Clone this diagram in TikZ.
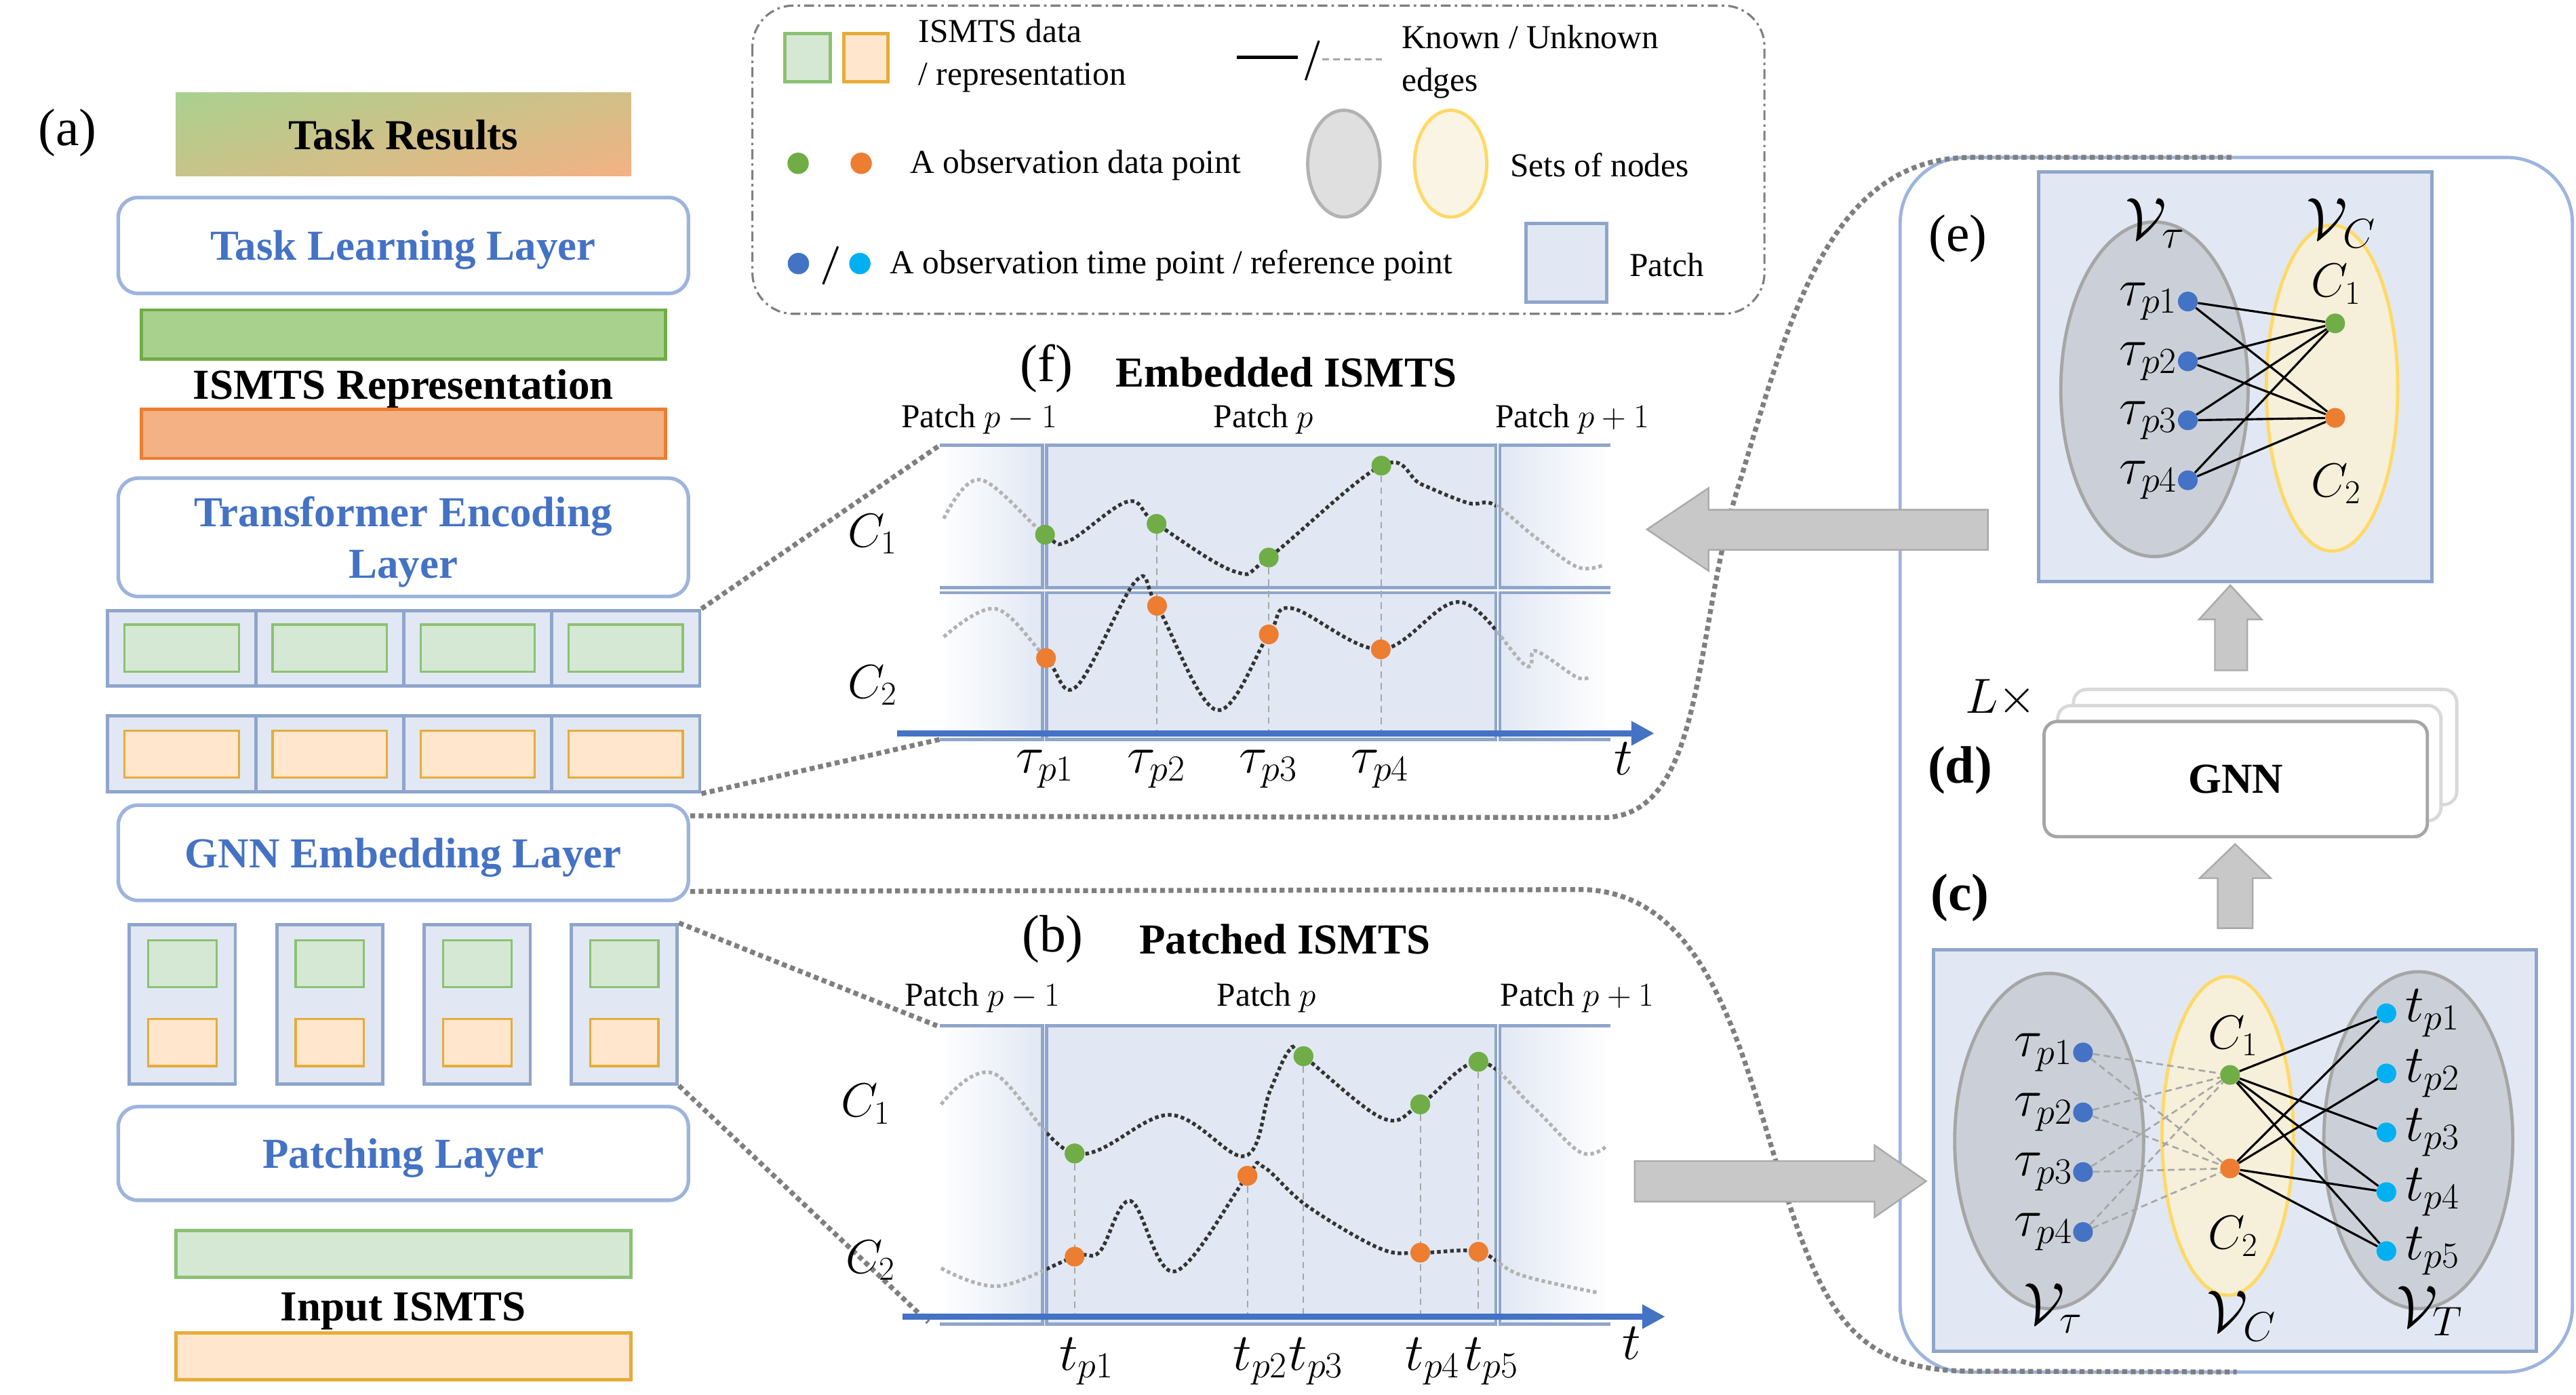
\RequirePackage{fix-cm}
\documentclass[tikz,border=0pt]{standalone}
\usepackage{fontspec}
\setmainfont{Liberation Serif}
\usepackage{amsmath,amssymb}
\usetikzlibrary{calc, positioning, arrows.meta, shapes.geometric, shadings}

\definecolor{blueText}{RGB}{68,114,196}
\definecolor{layerLine}{RGB}{157,180,222}
\definecolor{patchFill}{RGB}{225,232,244}
\definecolor{patchLine}{RGB}{143,165,203}
\definecolor{barGreen}{RGB}{169,209,142}
\definecolor{barGreenLine}{RGB}{112,173,71}
\definecolor{barOrange}{RGB}{244,177,131}
\definecolor{barOrangeLine}{RGB}{237,125,49}
\definecolor{softGreen}{RGB}{213,232,212}
\definecolor{softGreenLine}{RGB}{140,193,115}
\definecolor{softOrange}{RGB}{255,230,204}
\definecolor{softOrangeLine}{RGB}{230,172,58}
\definecolor{ptGreen}{RGB}{112,173,71}
\definecolor{ptOrange}{RGB}{237,125,49}
\definecolor{ptBlue}{RGB}{68,114,196}
\definecolor{ptCyan}{RGB}{0,176,240}
\definecolor{setGray}{RGB}{203,208,216}
\definecolor{setGrayLine}{RGB}{166,166,166}
\definecolor{setYellow}{RGB}{246,239,217}
\definecolor{setYellowLine}{RGB}{255,217,102}
\definecolor{arrowGray}{RGB}{200,200,200}
\definecolor{arrowLine}{RGB}{170,170,170}
\definecolor{dotGray}{RGB}{127,127,127}

\newcommand{\patchstrip}[2]{%
  \shade[left color=white, right color=patchFill] (572,#1) rectangle (634.5,#2);
  \shade[left color=patchFill, right color=white] (913,#1) rectangle (980.4,#2);
  \fill[patchFill] (637,#1) rectangle (910.5,#2);
  \draw[patchLine, line width=2pt] (572,#1) -- (634.5,#1) -- (634.5,#2) -- (572,#2);
  \draw[patchLine, line width=2pt] (980.4,#1) -- (913,#1) -- (913,#2) -- (980.4,#2);
  \draw[patchLine, line width=2pt] (637,#1) rectangle (910.5,#2);
}
\newcommand{\seriesFone}{plot[smooth, tension=0.6] coordinates {(574.5,315.6) (596.6,291.9) (636.1,325.4) (650.3,329.4) (686.7,305.2) (704,318.8) (751.4,347.8) (772.3,339.3) (840.8,283.4) (865.1,294.7) (893.6,306.1) (909.4,307.1) (934.6,327) (959.9,345) (975.7,344)}}
\newcommand{\seriesFtwo}{plot[smooth, tension=0.6] coordinates {(574.5,387.6) (606.1,370.5) (636.7,400.5) (655.1,417.9) (691.4,353.5) (704.3,368.7) (740.4,432.1) (772.3,386.1) (786.2,370.2) (840.5,395.2) (888.8,366.4) (928.3,404.7) (934.6,396.1) (959.9,412.2) (967.8,411.3)}}
\newcommand{\seriesBone}{plot[smooth, tension=0.6] coordinates {(572.9,672.1) (604.5,653.2) (654.1,702) (711.9,678.5) (757.7,703.6) (773,664) (785,639) (793.4,642.8) (841.4,680.5) (864.5,672.1) (899.9,646.2) (931.5,672.1) (961.5,701) (977.3,698)}}
\newcommand{\seriesBtwo}{plot[smooth, tension=0.6] coordinates {(572.9,771.8) (607.7,782.7) (654.1,764.8) (669.3,761.8) (688.2,730.9) (715.1,773.8) (759.3,715.6) (768.8,710) (795.6,733.9) (839.9,759.8) (864.5,762.4) (899.9,761.8) (925.2,775.8) (972.6,786.7)}}

\begin{document}
\begin{tikzpicture}[x=1pt, y=-1pt,
    layer/.style={draw=layerLine, line width=2.2pt, rounded corners=12pt, fill=white,
      text=blueText, font=\fontsize{26}{31.6}\selectfont\bfseries, align=center,
      minimum width=347pt, inner sep=0pt, text depth=0pt},
    heading/.style={font=\fontsize{26}{30}\selectfont\bfseries, text depth=0pt},
    paneltag/.style={font=\fontsize{32}{36}\selectfont},
    legendtext/.style={font=\fontsize{20.4}{26}\selectfont, anchor=west, align=left, inner sep=0pt},
    patchlab/.style={font=\fontsize{20.4}{24}\selectfont},
    mlab/.style={font=\fontsize{32}{34}\selectfont, inner sep=1pt},
    clab/.style={font=\fontsize{29}{32}\selectfont, inner sep=1pt},
    vlab/.style={font=\fontsize{36}{40}\selectfont, inner sep=0pt},
    patchcell/.style={draw=patchLine, fill=patchFill, line width=2pt, inner sep=0pt},
    gbox/.style={draw=softGreenLine, fill=softGreen, line width=1.3pt, inner sep=0pt},
    obox/.style={draw=softOrangeLine, fill=softOrange, line width=1.3pt, inner sep=0pt},
    obs/.style={circle, inner sep=0pt, minimum size=12pt},
    gdot/.style={obs, fill=ptGreen},
    odot/.style={obs, fill=ptOrange},
    bdot/.style={obs, fill=ptBlue},
    cdot/.style={obs, fill=ptCyan},
    zoomline/.style={draw=dotGray, line width=3pt, dash pattern=on 3pt off 2.2pt},
    seriesline/.style={line width=2.2pt, dash pattern=on 2.2pt off 1.8pt},
    dropline/.style={draw=gray!70, line width=0.8pt, dash pattern=on 4pt off 3pt},
    timeaxis/.style={draw=ptBlue, line width=3.5pt, -{Triangle[length=14pt,width=14pt]}},
    knownedge/.style={draw=black, line width=1.3pt},
    unknownedge/.style={draw=gray!70, line width=1.1pt, dash pattern=on 4pt off 2.5pt},
    bigarrow/.style={fill=arrowGray, draw=arrowLine, line width=1pt},
    setgray/.style={ellipse, fill=setGray, draw=setGrayLine, line width=2pt, inner sep=0pt},
    setyellow/.style={ellipse, fill=setYellow, draw=setYellowLine, line width=2pt, inner sep=0pt},
  ]
  \path[use as bounding box, fill=white] (0,0) rectangle (1568,849);

  \coordinate (fTL) at (572,271);
  \coordinate (fBL) at (572,450);
  \coordinate (bTL) at (570.4,624.3);
  \coordinate (bBL) at (565,804.7);
  \coordinate (eTop) at (1359,95.8);
  \coordinate (eBot) at (1361.5,835);

  \node[paneltag] (labA) at (41,81) {(a)};
  \node[minimum width=277pt, minimum height=51pt, upper left=barGreen, lower right=barOrange,
    upper right=barGreen!45!barOrange, lower left=barGreen!60!barOrange, heading] (res) at (245.5,81.8) {Task Results};
  \node[layer, minimum height=58.4pt] (task) at (245.5,149.4) {Task Learning Layer};
  \node[draw=barGreenLine, fill=barGreen, line width=2pt, minimum width=319pt, minimum height=30pt, inner sep=0pt] (repG) at (245.5,203.6) {};
  \node[heading] (repT) at (245.5,234) {ISMTS Representation};
  \node[draw=barOrangeLine, fill=barOrange, line width=2pt, minimum width=319pt, minimum height=30pt, inner sep=0pt] (repO) at (245.5,264) {};
  \node[layer, minimum height=72pt] (trans) at (245.5,327) {Transformer Encoding\\Layer};

  \foreach \i/\cx in {1/110.6, 2/200.7, 3/290.8, 4/380.9} {
    \node[patchcell, minimum width=90.1pt, minimum height=46pt] (g\i) at (\cx,394.5) {};
    \node[gbox, minimum width=69.5pt, minimum height=28.7pt] at (g\i) {};
    \node[patchcell, minimum width=90.1pt, minimum height=46.4pt] (o\i) at (\cx,458.8) {};
    \node[obox, minimum width=69.5pt, minimum height=28.5pt] at (o\i) {};
  }
  \draw[zoomline] (g4.north east) -- (fTL);
  \draw[zoomline] (o4.south east) -- (fBL);
  \node[layer, minimum height=58pt] (gnnL) at (245.5,519) {GNN Embedding Layer};
  \foreach \i/\cx in {1/111, 2/200.7, 3/290.5, 4/380} {
    \node[patchcell, minimum width=64.5pt, minimum height=97pt] (v\i) at (\cx,611.2) {};
    \node[gbox, minimum width=41.5pt, minimum height=28.6pt] at (\cx,586.5) {};
    \node[obox, minimum width=41.5pt, minimum height=28.6pt] at (\cx,634.5) {};
  }
  \draw[zoomline] (v4.north east) -- (bTL);
  \draw[zoomline] (v4.south east) -- (bBL);
  \node[layer, minimum height=57pt] (patchL) at (245.5,702) {Patching Layer};
  \node[gbox, line width=2pt, minimum width=277pt, minimum height=28.6pt] (inG) at (245.7,763.2) {};
  \node[heading] (inT) at (245.5,795) {Input ISMTS};
  \node[obox, line width=2pt, minimum width=277pt, minimum height=28.6pt] (inO) at (245.7,825.4) {};

  \draw[draw=dotGray, line width=1.3pt, dash pattern=on 6pt off 2.5pt on 1.5pt off 2.5pt, rounded corners=25pt]
    (458,3.4) rectangle (1074,191);
  \node[gbox, line width=2pt, minimum width=27.7pt, minimum height=29.2pt] (lgG) at (491.5,35.2) {};
  \node[obox, line width=2pt, minimum width=27pt, minimum height=29.2pt] (lgO) at (527,35.2) {};
  \node[legendtext] (lgData) at (559,34) {ISMTS data\\/ representation};
  \draw[knownedge, line width=2pt] (753,34.7) -- (790,34.7);
  \draw[line width=1.3pt] (794.7,48.8) -- (802.8,24.8);
  \draw[unknownedge] (805,36) -- (841,36);
  \node[legendtext] (lgEdge) at (853,37.5) {Known / Unknown\\edges};
  \node[gdot, minimum size=13pt] (lgDG) at (485.8,99.4) {};
  \node[odot, minimum size=13pt] (lgDO) at (524.2,99.4) {};
  \node[legendtext] (lgObs) at (554,100.4) {A observation data point};
  \node[ellipse, fill=gray!25, draw=gray!60, line width=2pt, minimum width=44pt, minimum height=65pt] (lgSG) at (818,99.6) {};
  \node[ellipse, fill=setYellow!70, draw=setYellowLine, line width=2pt, minimum width=44pt, minimum height=65pt] (lgSY) at (883,99.6) {};
  \node[legendtext] (lgSet) at (919,100.5) {Sets of nodes};
  \node[bdot, minimum size=13pt] (lgDB) at (486,160.4) {};
  \draw[line width=1.3pt] (501,173) -- (510,150);
  \node[cdot, minimum size=13pt] (lgDC) at (523.4,160.4) {};
  \node[legendtext] (lgTime) at (541.7,161.4) {A observation time point / reference point};
  \node[patchcell, minimum width=49pt, minimum height=47.7pt] (lgP) at (953.5,159.9) {};
  \node[legendtext] (lgPatch) at (991.8,161.4) {Patch};

  \node[paneltag] (labF) at (637,224.5) {(f)};
  \node[heading] (titF) at (783,226.5) {Embedded ISMTS};
  \node[patchlab] (fP0) at (596,255) {Patch $p-1$};
  \node[patchlab] (fP1) at (769,255) {Patch $p$};
  \node[patchlab] (fP2) at (957,255) {Patch $p+1$};
  \patchstrip{271}{357.7}
  \patchstrip{360.7}{450}
  \coordinate (fAx0) at (546,446.3);
  \coordinate (fAx1) at (1007,446.3);
  \draw[seriesline, black!30] \seriesFone;
  \draw[seriesline, black!30] \seriesFtwo;
  \begin{scope}
    \clip (637,271) rectangle (910.5,450);
    \draw[seriesline, black!80] \seriesFone;
    \draw[seriesline, black!80] \seriesFtwo;
  \end{scope}
  \node[gdot] (fa1) at (636.1,325.4) {};
  \node[gdot] (fa2) at (704,318.8) {};
  \node[gdot] (fa3) at (772.3,339.3) {};
  \node[gdot] (fa4) at (840.8,283.4) {};
  \foreach \i in {2,3,4} \draw[dropline] (fa\i) -- (fa\i |- fAx0);
  \node[odot] (fb1) at (636.7,400.5) {};
  \node[odot] (fb2) at (704.3,368.7) {};
  \node[odot] (fb3) at (772.3,386.1) {};
  \node[odot] (fb4) at (840.5,395.2) {};
  \draw[timeaxis] (fAx0) -- (fAx1);
  \node[mlab] (fT) at (988.3,461.5) {$t$};
  \node[clab] (fC1) at (531,325) {$C_1$};
  \node[clab] (fC2) at (531,417) {$C_2$};
  \node[mlab] (ftau1) at (636,468) {$\tau_{p1}$};
  \node[mlab] (ftau2) at (704,468) {$\tau_{p2}$};
  \node[mlab] (ftau3) at (772,468) {$\tau_{p3}$};
  \node[mlab] (ftau4) at (840,468) {$\tau_{p4}$};

  \node[paneltag] (labB) at (640.8,571.5) {(b)};
  \node[heading] (titB) at (782,571.5) {Patched ISMTS};
  \node[patchlab] (bP0) at (598,607.4) {Patch $p-1$};
  \node[patchlab] (bP1) at (771,607.4) {Patch $p$};
  \node[patchlab] (bP2) at (960,607.4) {Patch $p+1$};
  \patchstrip{624.3}{806}
  \coordinate (bAx0) at (549.2,801.3);
  \coordinate (bAx1) at (1013.6,801.3);
  \node[gdot] (ba1) at (654.1,702) {};
  \node[odot] (bb2) at (759.3,715.6) {};
  \node[gdot] (ba3) at (793.4,642.8) {};
  \node[gdot] (ba4) at (864.5,672.1) {};
  \node[gdot] (ba5) at (899.9,646.2) {};
  \foreach \n in {ba1,bb2,ba3,ba4,ba5} \draw[dropline] (\n) -- (\n |- bAx0);
  \draw[seriesline, black!30] \seriesBone;
  \draw[seriesline, black!30] \seriesBtwo;
  \begin{scope}
    \clip (637,624.3) rectangle (910.5,806);
    \draw[seriesline, black!80] \seriesBone;
    \draw[seriesline, black!80] \seriesBtwo;
  \end{scope}
  \node[gdot] at (ba1) {};
  \node[gdot] at (ba3) {};
  \node[gdot] at (ba4) {};
  \node[gdot] at (ba5) {};
  \node[odot] at (bb2) {};
  \node[odot] (bb1) at (654.1,764.8) {};
  \node[odot] (bb4) at (864.5,762.4) {};
  \node[odot] (bb5) at (899.9,761.8) {};
  \draw[timeaxis] (bAx0) -- (bAx1);
  \node[mlab] (bT) at (993,817.6) {$t$};
  \node[clab] (bC1) at (527,672) {$C_1$};
  \node[clab] (bC2) at (530,767) {$C_2$};
  \node[mlab] (bt1) at (661.4,828.6) {$t_{p1}$};
  \node[mlab] (bt2) at (767.2,828.6) {$t_{p2}$};
  \node[mlab] (bt3) at (801,828.6) {$t_{p3}$};
  \node[mlab] (bt4) at (872,828.6) {$t_{p4}$};
  \node[mlab] (bt5) at (907.8,828.6) {$t_{p5}$};

  \draw[layerLine, line width=2pt, rounded corners=40pt] (1156.6,95.8) rectangle (1565.8,835);

  \node[patchcell, minimum width=239.4pt, minimum height=249.1pt] (ePanel) at (1360.5,229.25) {};
  \node[paneltag] (labE) at (1191.7,145.2) {(e)};
  \node[setgray, minimum width=114pt, minimum height=203.6pt] (eVt) at (1311.4,236.9) {};
  \node[setyellow, minimum width=80pt, minimum height=198.4pt] (eVc) at (1419.5,236.2) {};
  \node[vlab] (eVtL) at (1311.8,136) {$\mathcal{V}_\tau$};
  \node[vlab] (eVcL) at (1425,136) {$\mathcal{V}_C$};
  \node[bdot] (et1) at (1331.7,183.5) {};
  \node[bdot] (et2) at (1331.7,219.9) {};
  \node[bdot] (et3) at (1331.7,255.8) {};
  \node[bdot] (et4) at (1331.7,292.3) {};
  \node[gdot] (ec1) at (1421.4,196.8) {};
  \node[odot] (ec2) at (1421.4,254.3) {};
  \foreach \i in {1,...,4} {
    \draw[knownedge] (et\i) -- (ec1);
    \draw[knownedge] (et\i) -- (ec2);
    \node[mlab, left=-1pt of et\i] {$\tau_{p\i}$};
  }
  \node[clab] (eC1) at (1422,172.9) {$C_1$};
  \node[clab] (eC2) at (1422,294.5) {$C_2$};

  \node[font=\fontsize{30}{32}\selectfont] (lTimes) at (1217.9,424.8) {$L\times$};
  \node[font=\fontsize{32}{36}\selectfont\bfseries] (labD) at (1193,469) {(d)};
  \draw[draw=gray!30, line width=2pt, fill=white, rounded corners=8pt] (1262.1,419.6) rectangle (1495.4,489.7);
  \draw[draw=gray!30, line width=2pt, fill=white, rounded corners=8pt] (1252.5,429.4) rectangle (1485.8,499.5);
  \node[draw=setGrayLine, line width=2pt, fill=white, rounded corners=8pt, minimum width=233.3pt, minimum height=70.1pt,
    font=\fontsize{26}{30}\selectfont\bfseries] (gnn) at (1360.85,474.15) {GNN};
  \node[font=\fontsize{32}{36}\selectfont\bfseries] (labC) at (1193,546.6) {(c)};

  \node[patchcell, minimum width=366.7pt, minimum height=244.3pt] (cPanel) at (1360.35,700.15) {};
  \node[setgray, minimum width=115pt, minimum height=204pt] (cVt) at (1247.3,694.4) {};
  \node[setyellow, minimum width=80pt, minimum height=194pt] (cVc) at (1356,691.3) {};
  \node[setgray, minimum width=115pt, minimum height=205pt] (cVT) at (1472,693.9) {};
  \node[bdot] (ct1) at (1267.9,640.5) {};
  \node[bdot] (ct2) at (1267.9,677) {};
  \node[bdot] (ct3) at (1267.9,713.3) {};
  \node[bdot] (ct4) at (1267.9,749.8) {};
  \node[gdot] (cc1) at (1357.4,654.2) {};
  \node[odot] (cc2) at (1357.4,711.1) {};
  \node[cdot] (cs1) at (1452.6,616.7) {};
  \node[cdot] (cs2) at (1452.6,653.3) {};
  \node[cdot] (cs3) at (1452.6,689.2) {};
  \node[cdot] (cs4) at (1452.6,725.5) {};
  \node[cdot] (cs5) at (1452.6,761.4) {};
  \foreach \i in {1,...,4} {
    \draw[unknownedge] (ct\i) -- (cc1);
    \draw[unknownedge] (ct\i) -- (cc2);
    \node[mlab, left=-1pt of ct\i] {$\tau_{p\i}$};
  }
  \foreach \j in {1,3,4,5} \draw[knownedge] (cc1) -- (cs\j);
  \foreach \j in {1,2,4,5} \draw[knownedge] (cc2) -- (cs\j);
  \foreach \j in {1,...,5} \node[mlab, right=4pt of cs\j] {$t_{p\j}$};
  \node[clab] (cC1) at (1359.3,630.4) {$C_1$};
  \node[clab] (cC2) at (1359.3,752.3) {$C_2$};
  \node[vlab] (cVtL) at (1249.7,796.4) {$\mathcal{V}_\tau$};
  \node[vlab] (cVcL) at (1364.3,801) {$\mathcal{V}_C$};
  \node[vlab] (cVTL) at (1478.9,798) {$\mathcal{V}_T$};

  \draw[zoomline] ([yshift=-7.6pt]gnnL.north east) -- (975,497.6)
    .. controls (1040,497.6) and (1030,380) .. (1060,290)
    .. controls (1090,190) and (1115,95.8) .. (1200,95.8) -- (eTop);
  \draw[zoomline] ([yshift=6.6pt]gnnL.south east) -- (965,541.4)
    .. controls (1040,545) and (1060,640) .. (1085,720)
    .. controls (1110,800) and (1130,834.5) .. (1200,834.5) -- (eBot);

  \filldraw[bigarrow] (1210,310.2) -- (1040,310.2) -- (1040,297) -- (1002.5,322.2) -- (1040,347.4) -- (1040,334.7) -- (1210,334.7) -- cycle;
  \filldraw[bigarrow] (995,706.6) -- (1141,706.6) -- (1141,697) -- (1172.4,718.9) -- (1141,740.8) -- (1141,731.3) -- (995,731.3) -- cycle;
  \filldraw[bigarrow] (1349.9,564.9) -- (1349.9,534.5) -- (1338.9,534.5) -- (1360.5,513.7) -- (1382.2,534.5) -- (1371.2,534.5) -- (1371.2,564.9) -- cycle;
  \filldraw[bigarrow] (1348.2,408) -- (1348.2,377) -- (1338.5,377) -- (1357.6,356.2) -- (1376.7,377) -- (1367.9,377) -- (1367.9,408) -- cycle;
\end{tikzpicture}
\end{document}
